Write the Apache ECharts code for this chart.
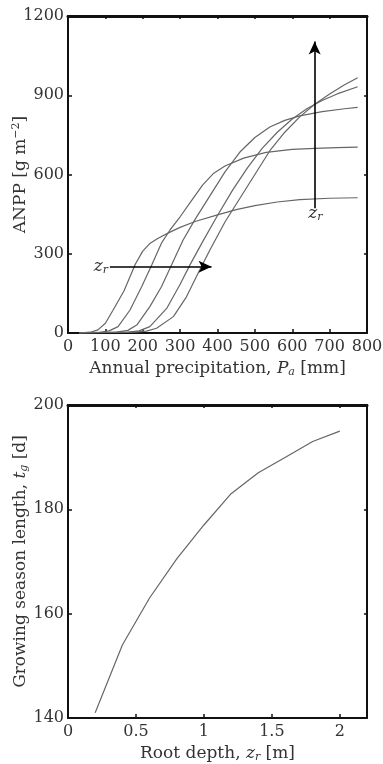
<!DOCTYPE html>
<html>
<head>
<meta charset="utf-8">
<script src="https://cdn.jsdelivr.net/npm/echarts@6/dist/echarts.min.js"></script>
<style>
html,body{margin:0;padding:0;background:#fff;}
#c{width:383px;height:764px;}
</style>
</head>
<body>
<div id="c"></div>
<script>
// ---- Top panel: ANPP vs annual precipitation, five root depths ----
const P1 = [30,60,80,100,120,150,180,200,220,240,270,300,340,400,450,500,560,620,700,775];
const A1 = [0,3,12,37,85,160,260,310,340,358,380,400,422,447,467,482,496,505,510,512];
const P2 = [30,80,110,134,166,197,224,250,273,300,330,360,390,420,470,530,600,660,720,775];
const A2 = [0,2,8,24,87,175,257,340,390,440,500,560,605,632,662,684,695,699,702,704];
const P3 = [30,130,160,184,219,250,277,308,340,380,420,460,500,540,580,620,680,740,775];
const A3 = [0,3,10,30,100,175,257,352,430,520,610,685,740,780,805,822,838,849,854];
const P4 = [30,160,190,219,264,299,326,360,400,440,480,520,560,600,640,680,720,775];
const A4 = [0,3,8,24,93,182,257,345,445,540,625,700,760,810,850,880,905,932];
const P5 = [30,180,210,237,282,317,348,380,420,460,500,540,580,620,660,700,740,775];
const A5 = [0,3,7,18,62,137,226,315,420,510,600,690,760,818,866,905,940,966];
const xTicksTop = [0,100,200,300,400,500,600,700,800];
const yTicksTop = [0,300,600,900,1200];

// ---- Bottom panel: growing season length vs root depth ----
const Z = [0.2,0.4,0.6,0.8,1.0,1.2,1.4,1.6,1.8,2.0];
const T = [141,154,163,170.5,177,183,187,190,193,195];
const xTicksBot = [0,0.5,1,1.5,2];
const yTicksBot = [140,160,180,200];

// annotation arrows (data units)
const arrowH = [[112,251],[384,251]];
const arrowV = [[660,472],[660,1103]];
const labelH = [88,251];
const labelV = [662,452];

const FONT = 'DejaVu Serif';
const TXT = '#333';
const rich = {
  n:{fontFamily:FONT,fontSize:17,color:TXT},
  i:{fontFamily:FONT,fontSize:17,color:TXT,fontStyle:'italic'},
  s:{fontFamily:FONT,fontSize:11,color:TXT,fontStyle:'italic',padding:[7,0,0,0]},
  sup:{fontFamily:FONT,fontSize:11,color:TXT,padding:[0,0,8,0]}
};

function pairs(xs, ys){ return xs.map((x,k)=>[x, ys[k]]); }
const plain = v => String(v);

function mainX(grid, min, max, interval, name, hideMax){
  return {gridIndex:grid,type:'value',position:'bottom',min:min,max:max,interval:interval,
    axisLine:{onZero:false,lineStyle:{color:'#111',width:2}},
    axisTick:{inside:true,length:4,lineStyle:{color:'#111',width:1.5}},
    axisLabel:{margin:6,fontFamily:FONT,fontSize:16,color:TXT,formatter:plain,
      showMaxLabel:hideMax?false:null},
    splitLine:{show:false},nameMoveOverlap:false,
    name:name,nameLocation:'middle',nameGap:27,nameTextStyle:{rich:rich}};
}
function topX(grid, min, max, interval){
  return {gridIndex:grid,type:'value',position:'top',min:min,max:max,interval:interval,
    axisLine:{onZero:false,lineStyle:{color:'#111',width:3}},
    axisTick:{inside:true,length:3,lineStyle:{color:'#111',width:1.5}},
    axisLabel:{show:false},splitLine:{show:false}};
}
function mainY(grid, min, max, interval, name){
  return {gridIndex:grid,type:'value',position:'left',min:min,max:max,interval:interval,
    axisLine:{show:true,onZero:false,lineStyle:{color:'#111',width:2}},
    axisTick:{show:true,inside:true,length:4,lineStyle:{color:'#111',width:1.5}},
    axisLabel:{margin:4,fontFamily:FONT,fontSize:16,color:TXT,formatter:plain},
    splitLine:{show:false},nameMoveOverlap:false,
    name:name,nameLocation:'middle',nameGap:38,nameRotate:90,nameTextStyle:{rich:rich}};
}
function rightY(grid, min, max, interval){
  return {gridIndex:grid,type:'value',position:'right',min:min,max:max,interval:interval,
    axisLine:{show:true,onZero:false,lineStyle:{color:'#111',width:2}},
    axisTick:{show:true,inside:true,length:3,lineStyle:{color:'#111',width:1.5}},
    axisLabel:{show:false},splitLine:{show:false}};
}

const curveStyle = {color:'#666',width:1.2};
function curve(xs, ys){
  return {type:'line',xAxisIndex:0,yAxisIndex:0,data:pairs(xs,ys),symbol:'none',
    lineStyle:curveStyle,silent:true};
}

const s1 = curve(P1,A1);
s1.markLine = {silent:true,symbol:['none','arrow'],symbolSize:[9,13],
  lineStyle:{color:'#000',width:1.6,type:'solid'},label:{show:false},
  data:[[{coord:arrowH[0]},{coord:arrowH[1]}],[{coord:arrowV[0]},{coord:arrowV[1]}]]};
s1.markPoint = {silent:true,symbol:'circle',symbolSize:0,
  label:{show:true,position:'inside',formatter:'{i|z}{s|r}',rich:rich},
  data:[{coord:labelH},{coord:labelV}]};

const option = {
  animation:false,
  backgroundColor:'#fff',
  grid:[
    {left:68,top:16,width:299,height:317,containLabel:false,outerBoundsMode:'none'},
    {left:68,top:405,width:299,height:313,containLabel:false,outerBoundsMode:'none'}
  ],
  xAxis:[
    mainX(0,xTicksTop[0],xTicksTop[xTicksTop.length-1],xTicksTop[1]-xTicksTop[0],
      '{n|Annual precipitation, }{i|P}{s|a}{n| [mm]}',false),
    topX(0,xTicksTop[0],xTicksTop[xTicksTop.length-1],xTicksTop[1]-xTicksTop[0]),
    mainX(1,xTicksBot[0],2.2,xTicksBot[1]-xTicksBot[0],'{n|Root depth, }{i|z}{s|r}{n| [m]}',true),
    topX(1,xTicksBot[0],2.2,xTicksBot[1]-xTicksBot[0])
  ],
  yAxis:[
    mainY(0,yTicksTop[0],yTicksTop[yTicksTop.length-1],yTicksTop[1]-yTicksTop[0],
      '{n|ANPP [g m}{sup|−2}{n|]}'),
    rightY(0,yTicksTop[0],yTicksTop[yTicksTop.length-1],yTicksTop[1]-yTicksTop[0]),
    mainY(1,yTicksBot[0],yTicksBot[yTicksBot.length-1],yTicksBot[1]-yTicksBot[0],
      '{n|Growing season length, }{i|t}{s|g}{n| [d]}'),
    rightY(1,yTicksBot[0],yTicksBot[yTicksBot.length-1],yTicksBot[1]-yTicksBot[0])
  ],
  series:[
    s1, curve(P2,A2), curve(P3,A3), curve(P4,A4), curve(P5,A5),
    {type:'line',xAxisIndex:2,yAxisIndex:2,data:pairs(Z,T),symbol:'none',
      lineStyle:curveStyle,silent:true}
  ]
};
const chart = echarts.init(document.getElementById('c'),null,{renderer:'canvas'});
chart.setOption(option);
</script>
</body>
</html>
